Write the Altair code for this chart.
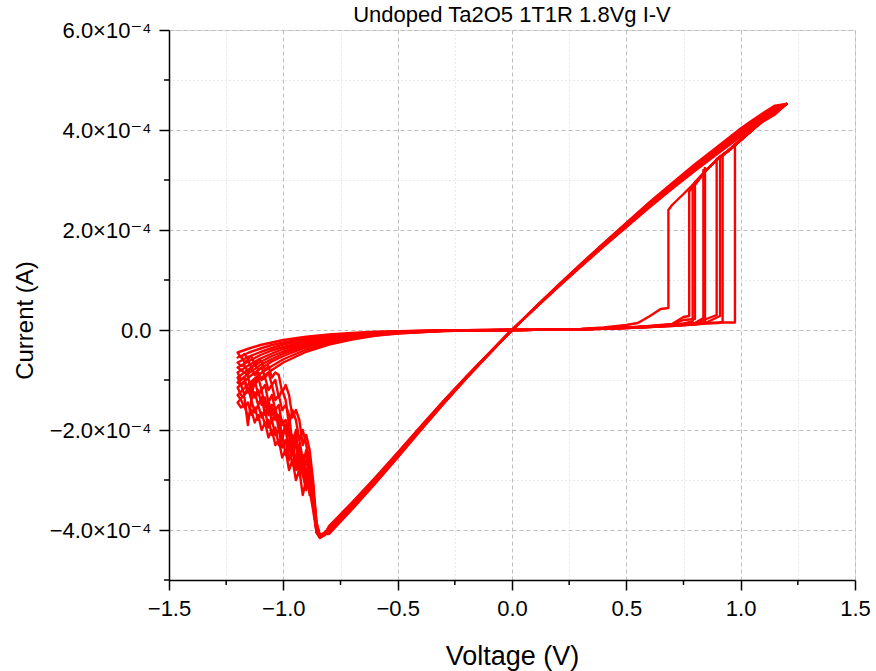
import altair as alt
import pandas as pd

# ---------------- data (current in units of 1e-4 A) ----------------
CYCLES = list(range(10))

# SET events (positive sweep)
SET_V = [0.684, 0.775, 0.790, 0.800, 0.837, 0.844, 0.895, 0.910, 0.921, 0.975]
SET_PRE_I = [0.44, 0.28, 0.17, 0.22, 0.24, 0.15, 0.30, 0.28, 0.16, 0.15]
SET_TOP_I = [2.40, 2.77, 2.83, 2.90, 3.20, 3.24, 3.42, 3.47, 3.50, 3.70]

# HRS, positive sweep before SET
HRS_POS_V = [0.0, 0.1, 0.2, 0.3, 0.4, 0.5, 0.55, 0.6, 0.65, 0.7, 0.75, 0.8, 0.85, 0.9, 0.95]
HRS_POS_I = [
    [0.0, 0.003, 0.010, 0.020, 0.05, 0.10, 0.14, 0.27, 0.42, 0.44, 0.45, 0.46, 0.47, 0.48, 0.50],
    [0.0, 0.003, 0.008, 0.015, 0.03, 0.05, 0.06, 0.08, 0.10, 0.12, 0.26, 0.30, 0.30, 0.30, 0.30],
    [0.0, 0.002, 0.007, 0.014, 0.028, 0.045, 0.055, 0.07, 0.085, 0.10, 0.13, 0.16, 0.20, 0.20, 0.20],
    [0.0, 0.002, 0.007, 0.014, 0.03, 0.05, 0.06, 0.075, 0.09, 0.11, 0.20, 0.22, 0.25, 0.25, 0.25],
    [0.0, 0.003, 0.008, 0.015, 0.03, 0.05, 0.06, 0.07, 0.085, 0.10, 0.12, 0.14, 0.20, 0.20, 0.20],
    [0.0, 0.002, 0.006, 0.012, 0.025, 0.04, 0.05, 0.06, 0.075, 0.09, 0.10, 0.12, 0.15, 0.15, 0.15],
    [0.0, 0.002, 0.007, 0.013, 0.027, 0.045, 0.055, 0.065, 0.08, 0.095, 0.11, 0.13, 0.22, 0.25, 0.25],
    [0.0, 0.003, 0.008, 0.015, 0.03, 0.05, 0.06, 0.07, 0.085, 0.10, 0.115, 0.13, 0.15, 0.26, 0.30],
    [0.0, 0.002, 0.006, 0.012, 0.025, 0.04, 0.05, 0.06, 0.07, 0.085, 0.10, 0.115, 0.13, 0.14, 0.15],
    [0.0, 0.002, 0.006, 0.012, 0.025, 0.04, 0.05, 0.06, 0.07, 0.08, 0.095, 0.11, 0.14, 0.15, 0.15],
]

# LRS, ascending after SET up to compliance
ASC_V = [0.70, 0.75, 0.80, 0.85, 0.90, 0.95, 1.00, 1.05, 1.10, 1.15, 1.20]
ASC_I = [2.50, 2.72, 2.95, 3.20, 3.42, 3.60, 3.80, 4.00, 4.20, 4.38, 4.52]

# LRS, descending from +1.2 V through 0 to the RESET onset
LRS_V = [1.2, 1.15, 1.1, 1.05, 1.0, 0.9, 0.8, 0.7, 0.6, 0.5, 0.4, 0.3, 0.2, 0.1, 0.0,
         -0.1, -0.2, -0.3, -0.4, -0.5, -0.6, -0.7, -0.75, -0.8]
LRS_I = [4.52, 4.40, 4.26, 4.11, 3.95, 3.60, 3.25, 2.88, 2.50, 2.10, 1.70, 1.29, 0.87, 0.44, 0.0,
         -0.47, -0.95, -1.45, -1.97, -2.50, -3.02, -3.52, -3.76, -4.00]
LRS_GAIN = [1.0, 0.99, 1.01, 0.985, 1.015, 0.995, 1.005, 0.98, 1.02, 1.0]

# RESET region (negative sweep, noisy)
RESET_V = [-0.82, -0.84, -0.855, -0.87, -0.885, -0.90, -0.915, -0.93, -0.945, -0.96, -0.975,
           -0.99, -1.005, -1.02, -1.035, -1.05, -1.065, -1.08, -1.095, -1.11, -1.125, -1.14,
           -1.155, -1.17, -1.185, -1.20]
RESET_I = [
    [-4.08, -4.12, -3.85, -3.0, -2.4, -2.1, -2.3, -1.8, -1.6, -1.75, -1.3, -1.1, -1.25, -0.9,
     -0.85, -0.95, -0.72, -0.8, -0.62, -0.6, -0.7, -0.52, -0.58, -0.48, -0.55, -0.45],
    [-4.05, -4.13, -3.95, -3.2, -2.6, -2.3, -2.0, -2.2, -1.8, -1.6, -1.9, -1.4, -1.2, -1.35,
     -1.0, -1.1, -0.85, -0.95, -0.75, -0.8, -0.68, -0.75, -0.6, -0.65, -0.52, -0.55],
    [-4.10, -4.10, -4.00, -3.3, -2.8, -2.5, -2.6, -2.2, -2.0, -2.3, -1.7, -1.5, -1.6, -1.3,
     -1.4, -1.1, -1.2, -0.95, -1.0, -0.85, -0.9, -0.75, -0.85, -0.7, -0.72, -0.65],
    [-4.10, -4.15, -4.05, -3.4, -2.9, -2.4, -2.7, -2.5, -2.1, -2.4, -2.0, -1.8, -1.9, -1.5,
     -1.6, -1.3, -1.45, -1.1, -1.2, -0.95, -1.05, -1.3, -0.9, -0.85, -0.8, -0.75],
    [-4.06, -4.12, -3.90, -3.1, -2.7, -3.0, -2.6, -2.3, -2.7, -2.2, -2.4, -2.0, -1.8, -2.0,
     -1.6, -1.7, -1.4, -1.55, -1.2, -1.3, -1.0, -1.1, -1.25, -0.95, -1.0, -0.85],
    [-4.10, -4.14, -3.95, -3.3, -2.9, -2.6, -2.9, -2.5, -2.2, -2.5, -2.1, -1.9, -2.2, -1.7,
     -1.8, -1.5, -1.7, -1.35, -1.5, -1.2, -1.35, -1.1, -1.2, -1.05, -1.1, -0.95],
    [-4.07, -4.10, -3.85, -3.2, -3.3, -2.8, -2.5, -2.8, -2.3, -2.1, -2.4, -1.9, -2.1, -1.8,
     -1.6, -1.85, -1.5, -1.7, -1.35, -1.5, -1.25, -1.4, -1.15, -1.3, -1.1, -1.05],
    [-4.09, -4.16, -4.00, -3.5, -3.0, -3.2, -2.9, -2.6, -2.8, -2.4, -2.6, -2.2, -2.35, -2.0,
     -2.1, -1.8, -1.95, -1.6, -1.75, -1.5, -1.65, -1.4, -1.9, -1.35, -1.3, -1.15],
    [-4.08, -4.12, -3.95, -3.3, -2.9, -3.1, -2.7, -2.9, -2.5, -2.7, -2.3, -2.5, -2.1, -2.3,
     -1.95, -2.1, -1.8, -1.9, -1.65, -1.8, -1.55, -1.7, -1.45, -1.55, -1.4, -1.3],
    [-4.10, -4.15, -4.05, -3.6, -3.2, -3.0, -3.3, -2.8, -3.0, -2.6, -2.8, -2.4, -2.55, -2.2,
     -2.3, -2.0, -2.15, -1.85, -2.0, -1.7, -1.85, -1.6, -1.75, -1.5, -1.55, -1.45],
]

# HRS, return sweep from -1.2 V back to 0
HRS_NEG_V = [-1.2, -1.15, -1.1, -1.05, -1.0, -0.9, -0.8, -0.7, -0.6, -0.5, -0.4, -0.3, -0.2, -0.1, 0.0]
HRS_NEG_I = [
    [-0.45, -0.37, -0.30, -0.25, -0.20, -0.135, -0.09, -0.059, -0.036, -0.023, -0.014, -0.007, -0.003, -0.001, 0.0],
    [-0.55, -0.45, -0.37, -0.30, -0.25, -0.165, -0.11, -0.072, -0.044, -0.028, -0.017, -0.008, -0.004, -0.001, 0.0],
    [-0.65, -0.53, -0.44, -0.36, -0.29, -0.195, -0.13, -0.085, -0.052, -0.033, -0.020, -0.010, -0.005, -0.001, 0.0],
    [-0.75, -0.62, -0.50, -0.41, -0.34, -0.225, -0.15, -0.098, -0.060, -0.038, -0.023, -0.011, -0.005, -0.002, 0.0],
    [-0.85, -0.70, -0.57, -0.47, -0.38, -0.255, -0.17, -0.110, -0.068, -0.043, -0.026, -0.013, -0.006, -0.002, 0.0],
    [-0.95, -0.78, -0.64, -0.52, -0.43, -0.285, -0.19, -0.124, -0.076, -0.048, -0.029, -0.014, -0.007, -0.002, 0.0],
    [-1.05, -0.86, -0.70, -0.58, -0.47, -0.315, -0.21, -0.137, -0.084, -0.053, -0.032, -0.016, -0.007, -0.002, 0.0],
    [-1.15, -0.94, -0.77, -0.63, -0.52, -0.345, -0.23, -0.150, -0.092, -0.058, -0.035, -0.017, -0.008, -0.002, 0.0],
    [-1.30, -1.07, -0.87, -0.72, -0.585, -0.39, -0.26, -0.170, -0.104, -0.065, -0.039, -0.020, -0.009, -0.003, 0.0],
    [-1.45, -1.19, -0.97, -0.80, -0.65, -0.435, -0.29, -0.190, -0.116, -0.073, -0.044, -0.022, -0.010, -0.003, 0.0],
]

X_TICKS = [-1.5, -1.25, -1.0, -0.75, -0.5, -0.25, 0.0, 0.25, 0.5, 0.75, 1.0, 1.25, 1.5]
Y_TICKS = [-5, -4, -3, -2, -1, 0, 1, 2, 3, 4, 5, 6]
X_MINOR = [-1.25, -0.75, -0.25, 0.25, 0.75, 1.25]
Y_MINOR = [-5, -3, -1, 1, 3, 5]

# ---------------- build path table ----------------
rows = []
for c in CYCLES:
    pts = []
    for v, i in zip(HRS_POS_V, HRS_POS_I[c]):
        if v < SET_V[c]:
            pts.append((v, i))
    pts.append((SET_V[c], SET_PRE_I[c]))
    pts.append((SET_V[c], SET_TOP_I[c]))
    for v, i in zip(ASC_V, ASC_I):
        if v > SET_V[c] + 0.005:
            pts.append((v, i))
    for j, (v, i) in enumerate(zip(LRS_V, LRS_I)):
        if j == 0:
            continue
        pts.append((v, i * LRS_GAIN[c]))
    for v, i in zip(RESET_V, RESET_I[c]):
        pts.append((v, i))
    for v, i in zip(HRS_NEG_V, HRS_NEG_I[c]):
        pts.append((v, i))
    for k, (v, i) in enumerate(pts):
        rows.append({"cycle": c, "idx": k, "v": v, "i": i})

df = pd.DataFrame(rows)
df_xminor = pd.DataFrame({"v": X_MINOR})
df_yminor = pd.DataFrame({"i": Y_MINOR})

FONT = "Liberation Sans, Arial, DejaVu Sans, sans-serif"
minor_x = "round(datum.value * 4) % 2 !== 0"
minor_y = "datum.value % 2 !== 0"

x_axis = alt.Axis(
    values=X_TICKS,
    labelExpr=f"{minor_x} ? '' : format(datum.value, '.1f')",
    tickSize=10,
    tickOpacity={"condition": {"test": minor_x, "value": 0}, "value": 1},
    gridDash={"condition": {"test": minor_x, "value": [1, 3]}, "value": [4, 3]},
    gridColor={"condition": {"test": minor_x, "value": "#d2d2d2"}, "value": "#bdbdbd"},
    grid=True,
    domainColor="black", domainWidth=1.5,
    tickColor="black", tickWidth=1.5,
    labelFont=FONT, labelFontSize=22, labelColor="black", labelPadding=8,
    labelFlush=False, labelOverlap=False,
    title="Voltage (V)", titleFont=FONT, titleFontSize=27, titleFontWeight="normal",
    titleColor="black", titleX=343, titleY=84, titleBaseline="alphabetic", titleAlign="center",
)

y_axis = alt.Axis(
    values=Y_TICKS,
    labelExpr=f"{minor_y} ? '' : (datum.value === 0 ? '0.0' : format(datum.value, '.1f') + '×10⁻⁴')",
    tickSize=10,
    tickOpacity={"condition": {"test": minor_y, "value": 0}, "value": 1},
    gridDash={"condition": {"test": minor_y, "value": [1, 3]}, "value": [4, 3]},
    gridColor={"condition": {"test": minor_y, "value": "#d2d2d2"}, "value": "#bdbdbd"},
    grid=True,
    domainColor="black", domainWidth=1.5,
    tickColor="black", tickWidth=1.5,
    labelFont=FONT, labelFontSize=22, labelColor="black", labelPadding=8,
    labelFlush=False, labelOverlap=False,
    title="Current (A)", titleFont=FONT, titleFontSize=24, titleFontWeight="normal",
    titleColor="black", titleX=-144, titleY=290, titleBaseline="middle", titleAlign="center",
    titleAngle=-90,
)

x_scale = alt.Scale(domain=[-1.5, 1.5], nice=False, zero=False)
y_scale = alt.Scale(domain=[-5, 6], nice=False, zero=False)

lines = (
    alt.Chart(df)
    .mark_line(color="#ff0000", strokeWidth=2.4, strokeJoin="round")
    .encode(
        x=alt.X("v:Q", scale=x_scale, axis=x_axis),
        y=alt.Y("i:Q", scale=y_scale, axis=y_axis),
        detail="cycle:N",
        order="idx:Q",
    )
)

# short minor tick stubs outside the frame (same axes, so they merge)
x_minor_ticks = (
    alt.Chart(df_xminor)
    .mark_rule(color="black", strokeWidth=1.5)
    .encode(
        x=alt.X("v:Q", scale=x_scale, axis=x_axis),
        y=alt.value(550),
        y2=alt.value(555),
    )
)
y_minor_ticks = (
    alt.Chart(df_yminor)
    .mark_rule(color="black", strokeWidth=1.5)
    .encode(
        y=alt.Y("i:Q", scale=y_scale, axis=y_axis),
        x=alt.value(0),
        x2=alt.value(-5),
    )
)

chart = (
    alt.layer(lines, x_minor_ticks, y_minor_ticks)
    .properties(
        width=686,
        height=550,
        title=alt.TitleParams(
            "Undoped Ta2O5 1T1R 1.8Vg I-V",
            font=FONT, fontSize=22, fontWeight="normal", color="black",
            anchor="middle", offset=-25, baseline="alphabetic", frame="group",
        ),
        autosize=alt.AutoSizeParams(type="none"),
        padding={"left": 169, "top": 30, "right": 21, "bottom": 91},
    )
    .configure_view(stroke="black", strokeWidth=1.5)
    .configure(background="white")
)

chart.save("out.html", embed_options={"renderer": "svg", "actions": False})
